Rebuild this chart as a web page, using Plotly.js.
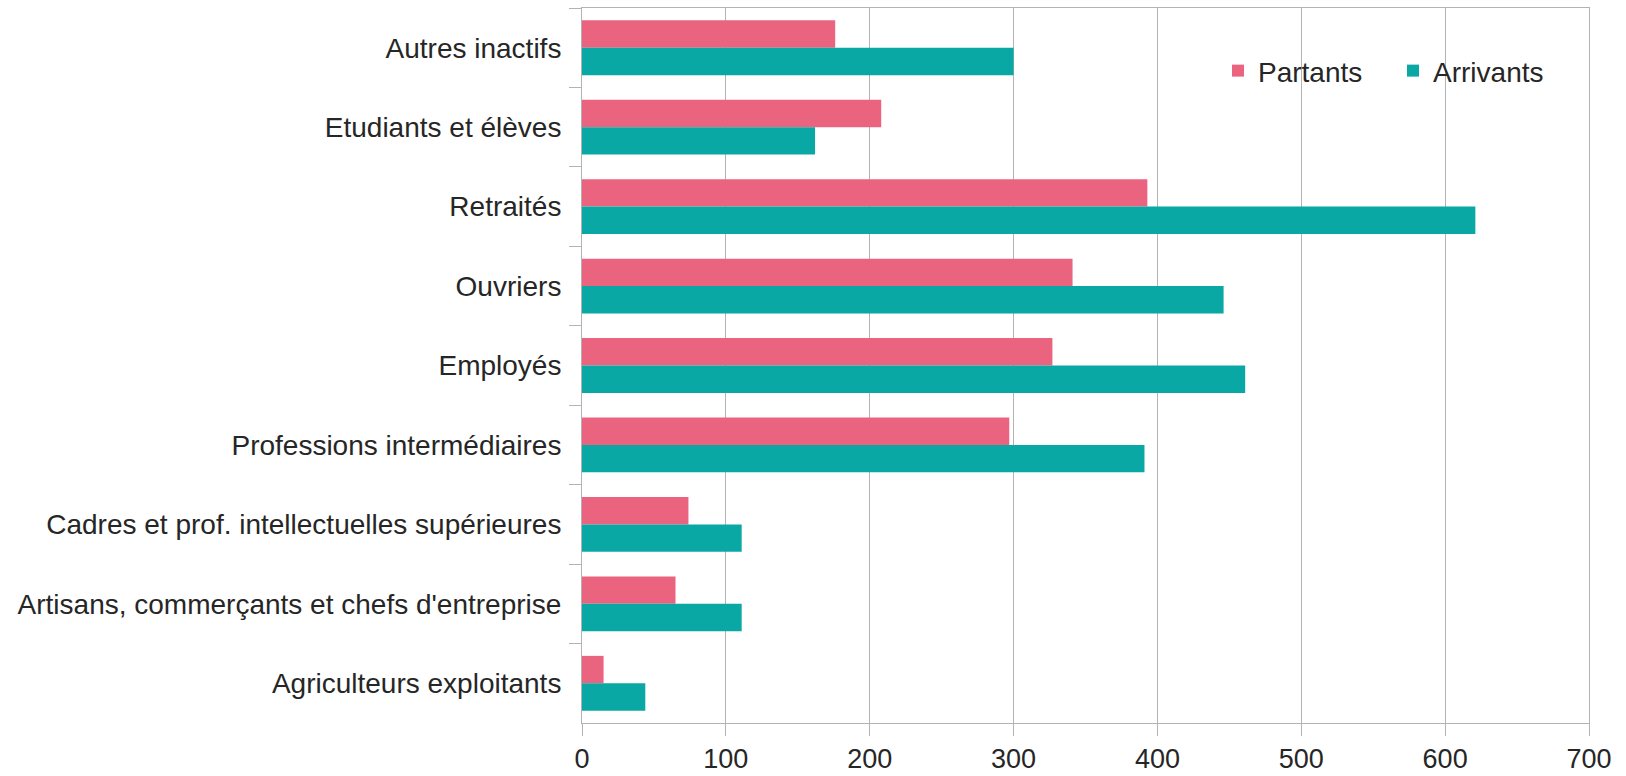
<!DOCTYPE html>
<html>
<head>
<meta charset="utf-8">
<script src="https://cdn.plot.ly/plotly-3.0.1.min.js"></script>
<style>
  html, body { margin: 0; padding: 0; background: #ffffff; }
  #chart { width: 1626px; height: 776px; }
</style>
</head>
<body>
<div id="chart"></div>
<script>
// Categories, top to bottom as in the reference
const categories = [
  "Autres inactifs",
  "Etudiants et élèves",
  "Retraités",
  "Ouvriers",
  "Employés",
  "Professions intermédiaires",
  "Cadres et prof. intellectuelles supérieures",
  "Artisans, commerçants et chefs d'entreprise",
  "Agriculteurs exploitants"
];
const partants  = [176, 208, 393, 341, 327, 297, 74, 65, 15];
const arrivants = [300, 162, 621, 446, 461, 391, 111, 111, 44];
const xTicks = [0, 100, 200, 300, 400, 500, 600, 700];

const FONT = "Liberation Sans, Arial, sans-serif";
const TXT = "#262626";
const GRID = "#b3b3b3";

const traces = [
  {
    type: "bar", orientation: "h", name: "Partants",
    y: categories, x: partants,
    marker: { color: "#ea6480" }, hoverinfo: "x+y"
  },
  {
    type: "bar", orientation: "h", name: "Arrivants",
    y: categories, x: arrivants,
    marker: { color: "#0aa8a5" }, hoverinfo: "x+y"
  }
];

const layout = {
  width: 1626, height: 776,
  margin: { l: 582, r: 37, t: 8, b: 53, pad: 0 },
  paper_bgcolor: "#ffffff", plot_bgcolor: "#ffffff",
  font: { family: FONT, size: 28, color: TXT },
  barmode: "group", bargap: 0.31, bargroupgap: 0,
  showlegend: true,
  legend: {
    orientation: "h", x: 0.6316, xanchor: "left", y: 0.912, yanchor: "middle",
    font: { family: FONT, size: 28, color: TXT },
    entrywidth: 130, entrywidthmode: "pixels",
    bgcolor: "rgba(0,0,0,0)", traceorder: "normal"
  },
  xaxis: {
    range: [0, 700], tickvals: xTicks, ticktext: xTicks.map(String),
    showgrid: true, gridcolor: GRID, gridwidth: 1,
    zeroline: false,
    showline: true, linecolor: GRID, linewidth: 1, mirror: true,
    ticks: "outside", ticklen: 12, tickcolor: GRID, tickwidth: 1,
    tickfont: { family: FONT, size: 27, color: TXT },
    fixedrange: true
  },
  yaxis: {
    type: "category", autorange: "reversed",
    categoryorder: "array", categoryarray: categories,
    showgrid: false, zeroline: false,
    showline: true, linecolor: GRID, linewidth: 1, mirror: true,
    ticks: "outside", ticklen: 12, tickcolor: GRID, tickwidth: 1,
    tickson: "boundaries",
    ticklabelstandoff: 14,
    tickfont: { family: FONT, size: 28, color: TXT },
    fixedrange: true
  }
};

Plotly.newPlot("chart", traces, layout, { displayModeBar: false, staticPlot: true });
</script>
</body>
</html>
